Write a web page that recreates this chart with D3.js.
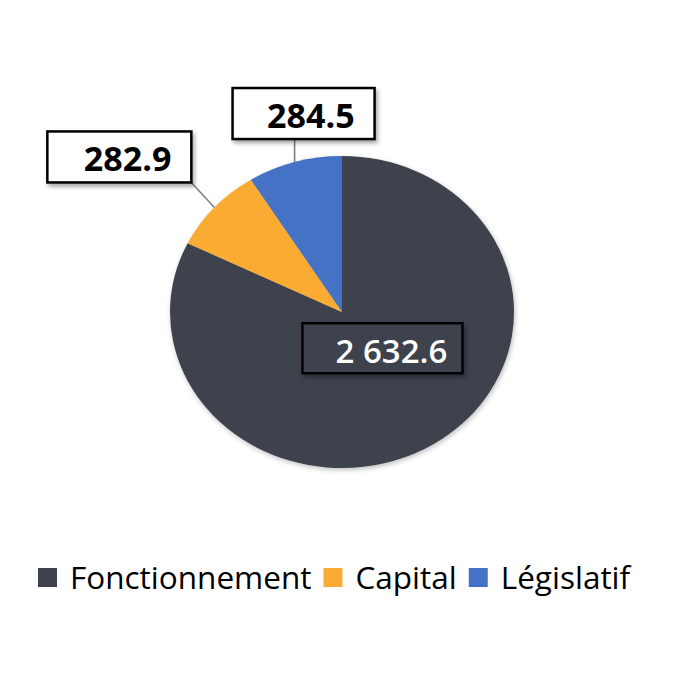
<!DOCTYPE html>
<html>
<head>
<meta charset="utf-8">
<script src="https://cdn.jsdelivr.net/npm/d3@7"></script>
<style>
  html, body { margin: 0; padding: 0; background: #fff; }
  svg { display: block; }
</style>
</head>
<body>
<script>
// chart data
var categories = ["Fonctionnement", "Capital", "Législatif"];
var values = [2632.6, 282.9, 284.5];
var labels = ["2 632.6", "282.9", "284.5"];
var colors = ["#3e424d", "#f9ab33", "#4472c4"];

var width = 698, height = 698;
var cx = 342, cy = 312,
    radius = 156,
    stretch = 172 / 156;   // the pie is drawn a bit wider than tall

var svg = d3.select("body").append("svg")
    .attr("width", width)
    .attr("height", height);

var defs = svg.append("defs");
defs.append("filter").attr("id", "boxShadow")
    .attr("x", "-20%").attr("y", "-20%").attr("width", "140%").attr("height", "160%")
  .append("feDropShadow")
    .attr("dx", 2).attr("dy", 3).attr("stdDeviation", 2)
    .attr("flood-color", "#000").attr("flood-opacity", 0.35);
defs.append("filter").attr("id", "pieShadow")
    .attr("x", "-10%").attr("y", "-10%").attr("width", "120%").attr("height", "120%")
  .append("feDropShadow")
    .attr("dx", 1).attr("dy", 2).attr("stdDeviation", 2.5)
    .attr("flood-color", "#000").attr("flood-opacity", 0.25);

var pie = d3.pie().sort(null).value(function(d) { return d; });
var arcs = pie(values);

var arc = d3.arc().innerRadius(0).outerRadius(radius);
var edgeArc = d3.arc().innerRadius(radius).outerRadius(radius);
var midArc = d3.arc().innerRadius(radius / 2).outerRadius(radius / 2);

// slices
var pieG = svg.append("g")
    .attr("transform", "translate(" + cx + "," + cy + ") scale(" + stretch + ",1)")
    .attr("filter", "url(#pieShadow)");

pieG.selectAll("path.slice")
    .data(arcs)
  .enter().append("path")
    .attr("class", "slice")
    .attr("d", arc)
    .style("fill", function(d, i) { return colors[i]; });

// label placement, relative to the point each label points at
// inside: anchored on the slice centroid, no leader line
var labelLayout = [
    {inside: true,  dx: -85,  dy: -55, w: 160, h: 50, pad: 15, size: 33, weight: 600, fill: colors[0], ink: "#fff"},
    {inside: false, dx: -167, dy: -76, w: 144, h: 51, pad: 20, size: 34, weight: 700, fill: "#fff", ink: "#000"},
    {inside: false, dx: -62,  dy: -74, w: 142, h: 51, pad: 20, size: 34, weight: 700, fill: "#fff", ink: "#000"}
];

function toScreen(p) {
    return [cx + p[0] * stretch, cy + p[1]];
}

var labelG = svg.append("g");

arcs.forEach(function(d, i) {
    var lay = labelLayout[i];
    var anchor = toScreen(lay.inside ? midArc.centroid(d) : edgeArc.centroid(d));
    var x0 = anchor[0] + lay.dx, y0 = anchor[1] + lay.dy;

    if (!lay.inside) {
        var lx = Math.max(x0, Math.min(anchor[0], x0 + lay.w)),
            ly = Math.max(y0, Math.min(anchor[1], y0 + lay.h));
        labelG.append("line")
            .attr("x1", lx).attr("y1", ly)
            .attr("x2", anchor[0]).attr("y2", anchor[1])
            .style("stroke", "#7f7f7f")
            .style("stroke-width", 1.6);
    }

    labelG.append("rect")
        .attr("x", x0).attr("y", y0)
        .attr("width", lay.w).attr("height", lay.h)
        .style("fill", lay.fill)
        .style("stroke", "#000")
        .style("stroke-width", 2.5)
        .attr("filter", "url(#boxShadow)");

    labelG.append("text")
        .attr("x", x0 + lay.w - lay.pad)
        .attr("y", y0 + 40)
        .attr("text-anchor", "end")
        .style("font-family", "'Open Sans', sans-serif")
        .style("font-size", lay.size + "px")
        .style("font-weight", lay.weight)
        .style("fill", lay.ink)
        .text(labels[i]);
});

// legend
var legend = svg.append("g").attr("class", "legend");
var lx = 38, legendBase = 589, box = 19;

categories.forEach(function(name, i) {
    legend.append("rect")
        .attr("x", lx)
        .attr("y", legendBase - 21)
        .attr("width", box)
        .attr("height", box)
        .style("fill", colors[i]);
    lx += box + 13;
    var t = legend.append("text")
        .attr("x", lx)
        .attr("y", legendBase)
        .style("font-family", "'Open Sans', sans-serif")
        .style("font-size", "31.5px")
        .style("fill", "#000")
        .text(name);
    lx += t.node().getComputedTextLength() + 12;
});
</script>
</body>
</html>
